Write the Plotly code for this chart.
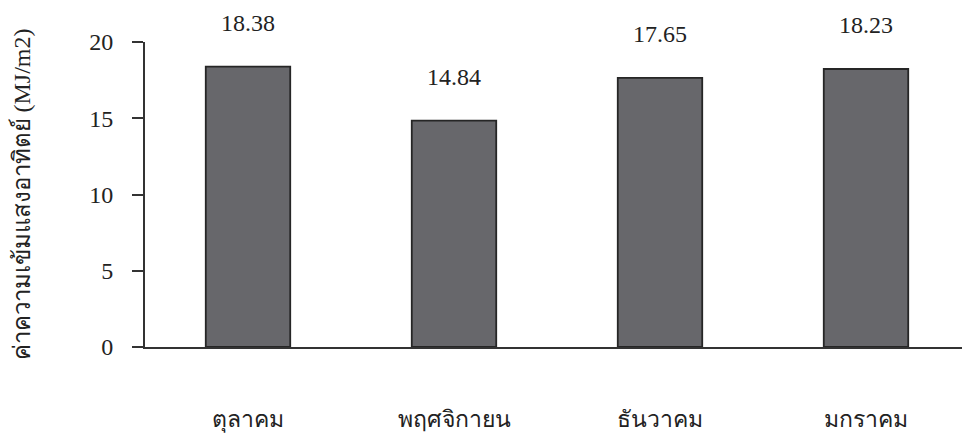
import plotly.graph_objects as go

months = ["ตุลาคม", "พฤศจิกายน", "ธันวาคม", "มกราคม"]
radiation = [18.38, 14.84, 17.65, 18.23]
value_labels = ["18.38", "14.84", "17.65", "18.23"]
y_ticks = [0, 5, 10, 15, 20]

serif = "Liberation Serif, Times New Roman, serif"

fig = go.Figure()
fig.add_trace(go.Bar(
    x=months, y=radiation,
    marker=dict(color="#67676b", line=dict(color="#262626", width=1.8)),
    width=0.41,
    showlegend=False,
))

for m, v, t in zip(months, radiation, value_labels):
    fig.add_annotation(x=m, y=v, text=t, showarrow=False, xref="x", yref="y",
                       yanchor="middle", yshift=44,
                       font=dict(family=serif, size=24, color="#222"))

fig.update_layout(
    width=962, height=440,
    margin=dict(l=145, r=0, t=42, b=93),
    paper_bgcolor="white", plot_bgcolor="white",
    font=dict(family=serif, color="#222"),
    xaxis=dict(
        range=[-0.5, 3.466],
        showline=True, linecolor="#333", linewidth=2,
        ticks="", showgrid=False, zeroline=False,
        ticklabelstandoff=50,
        tickfont=dict(family=serif, size=23, color="#222"),
    ),
    yaxis=dict(
        range=[0, 20], tickvals=y_ticks,
        showline=True, linecolor="#333", linewidth=2,
        ticks="outside", ticklen=11, tickwidth=2, tickcolor="#333",
        showgrid=False, zeroline=False,
        ticklabelstandoff=14,
        tickfont=dict(family=serif, size=24, color="#222"),
        title=dict(text="ค่าความเข้มแสงอาทิตย์ (MJ/m2)",
                   font=dict(family=serif, size=24, color="#222"), standoff=52),
    ),
)

fig.write_html("out.html")
